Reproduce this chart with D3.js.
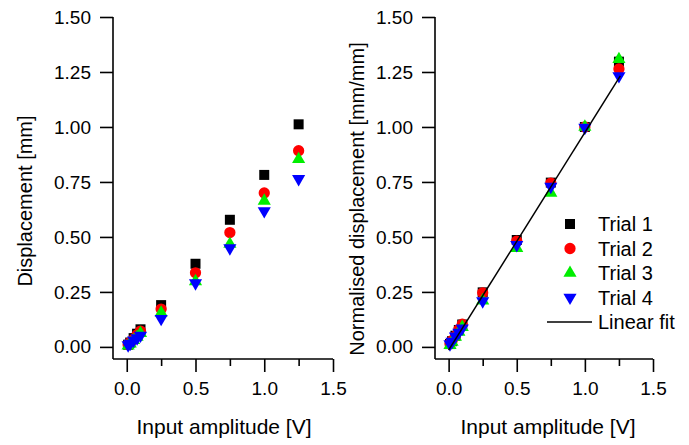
<!DOCTYPE html>
<html>
<head>
<meta charset="utf-8">
<script src="https://cdn.jsdelivr.net/npm/d3@7"></script>
<style>
  body { margin: 0; background: #fff; }
  svg { font-family: "Liberation Sans", Arial, sans-serif; }
</style>
</head>
<body>
<svg id="chart" width="689" height="445"></svg>
<script>
// input amplitude [V]
const amplitude = [0.01, 0.025, 0.05, 0.075, 0.1, 0.25, 0.5, 0.75, 1.0, 1.25];

// displacement [mm], left panel
const disp1 = [0.01, 0.02, 0.04, 0.06, 0.08, 0.19, 0.378, 0.578, 0.782, 1.012];
const disp2 = [0.01, 0.02, 0.035, 0.055, 0.072, 0.172, 0.337, 0.52, 0.70, 0.892];
const disp3 = [0.005, 0.015, 0.03, 0.045, 0.062, 0.155, 0.298, 0.468, 0.664, 0.853];
const disp4 = [0.008, 0.015, 0.03, 0.04, 0.052, 0.128, 0.29, 0.449, 0.618, 0.764];

// normalised displacement [mm/mm], right panel
const norm1 = [0.013, 0.026, 0.051, 0.077, 0.102, 0.248, 0.486, 0.747, 1.0, 1.297];
const norm2 = [0.014, 0.028, 0.05, 0.079, 0.103, 0.246, 0.481, 0.745, 1.0, 1.264];
const norm3 = [0.008, 0.022, 0.045, 0.068, 0.09, 0.21, 0.449, 0.70, 1.0, 1.308];
const norm4 = [0.013, 0.024, 0.048, 0.065, 0.085, 0.208, 0.464, 0.729, 0.997, 1.232];

const trialNames = ["Trial 1", "Trial 2", "Trial 3", "Trial 4"];
const trialColors = ["#000000", "#ff0000", "#00ee00", "#0000ff"];
const fitSlope = 0.99;
const fitIntercept = -0.015;
const fitRange = [0.0, 1.26];

const xTicks = [0, 0.5, 1.0, 1.5];
const xMinorTicks = [0.25, 0.75, 1.25];
const yTicks = [0, 0.25, 0.5, 0.75, 1.0, 1.25, 1.5];

const svg = d3.select("#chart");

const shapes = [
  d3.symbol().type(d3.symbolSquare).size(100),
  d3.symbol().type(d3.symbolCircle).size(100),
  d3.symbol().type(d3.symbolTriangle).size(75),
  d3.symbol().type(d3.symbolTriangle).size(75)
];
const rotations = [0, 0, 0, 180];

function styleAxis(a) {
  a.select(".domain").attr("stroke", "#000").attr("stroke-width", 1.6);
  a.selectAll(".tick line").attr("stroke", "#000").attr("stroke-width", 1.6);
  a.selectAll(".tick text").attr("fill", "#000").attr("font-size", "19px")
    .attr("font-family", "Liberation Sans, Arial, sans-serif");
}

function drawPanel(p) {
  const top = 17, bottom = 359;
  const x = d3.scaleLinear().domain([-0.1, 1.5]).range([p.left, p.right]);
  const y = d3.scaleLinear().domain([-0.055, 1.5]).range([bottom, top]);

  const g = svg.append("g");

  const yAxis = g.append("g")
    .attr("transform", `translate(${p.left},0)`)
    .call(d3.axisLeft(y).tickValues(yTicks).tickFormat(d3.format(".2f")).tickSize(13).tickPadding(9));
  yAxis.select(".domain").attr("d", `M0,${top}V${bottom}`);
  styleAxis(yAxis);

  const xMinor = g.append("g")
    .attr("transform", `translate(0,${bottom})`)
    .call(d3.axisBottom(x).tickValues(xMinorTicks).tickFormat("").tickSize(7));
  xMinor.select(".domain").remove();
  styleAxis(xMinor);

  const xAxis = g.append("g")
    .attr("transform", `translate(0,${bottom})`)
    .call(d3.axisBottom(x).tickValues(xTicks).tickFormat(d3.format(".1f")).tickSize(13).tickPadding(10));
  xAxis.select(".domain").attr("d", `M${p.left},0H${p.right}`);
  styleAxis(xAxis);

  p.series.forEach((vals, i) => {
    g.append("g").selectAll("path")
      .data(vals.map((v, k) => [amplitude[k], v]))
      .enter()
      .append("path")
      .attr("d", shapes[i]())
      .attr("fill", trialColors[i])
      .attr("transform", d => `translate(${x(d[0])},${y(d[1])}) rotate(${rotations[i]})`);
  });

  if (p.withFit) {
    const line = d3.line().x(d => x(d)).y(d => y(fitSlope * d + fitIntercept));
    g.append("path")
      .datum(fitRange)
      .attr("d", line)
      .attr("fill", "none")
      .attr("stroke", "#000")
      .attr("stroke-width", 1.5);
  }

  g.append("text")
    .attr("x", p.xLabelX)
    .attr("y", 434)
    .attr("text-anchor", "middle")
    .attr("font-size", "21px")
    .text("Input amplitude [V]");

  g.append("text")
    .attr("transform", `translate(${p.yLabelX},${p.yLabelY}) rotate(-90)`)
    .attr("text-anchor", "middle")
    .attr("font-size", "20px")
    .text(p.yLabel);
}

drawPanel({
  left: 113, right: 333, series: [disp1, disp2, disp3, disp4],
  yLabel: "Displacement [mm]", withFit: false,
  xLabelX: 224, yLabelX: 32, yLabelY: 201
});
drawPanel({
  left: 435, right: 653, series: [norm1, norm2, norm3, norm4],
  yLabel: "Normalised displacement [mm/mm]", withFit: true,
  xLabelX: 548, yLabelX: 364, yLabelY: 199
});

// legend
const legend = svg.append("g");
trialNames.forEach((name, i) => {
  const yy = 224 + i * 24.5;
  legend.append("path")
    .attr("d", shapes[i]())
    .attr("fill", trialColors[i])
    .attr("transform", `translate(570,${yy}) rotate(${rotations[i]})`);
  legend.append("text")
    .attr("x", 598).attr("y", yy + 7)
    .attr("font-size", "20px")
    .text(name);
});
legend.append("line")
  .attr("x1", 547).attr("x2", 592)
  .attr("y1", 322).attr("y2", 322)
  .attr("stroke", "#000").attr("stroke-width", 1.5);
legend.append("text")
  .attr("x", 598).attr("y", 329)
  .attr("font-size", "20px")
  .text("Linear fit");
</script>
</body>
</html>
